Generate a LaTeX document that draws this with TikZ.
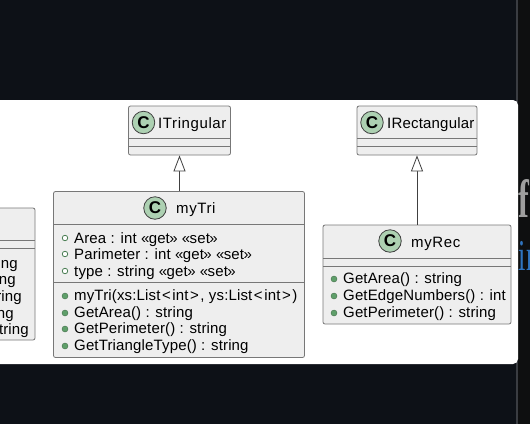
\documentclass[tikz,border=0pt]{standalone}
\usepackage{fontspec}
\setmainfont{Liberation Sans}
\newfontfamily\sidefont{Liberation Serif}
\usetikzlibrary{arrows.meta}
\definecolor{pagedark}{HTML}{0D1117}
\definecolor{sidedark}{HTML}{0E0F10}
\definecolor{stripgray}{HTML}{3A3D42}
\definecolor{boxfill}{HTML}{EEEEEE}
\definecolor{boxline}{HTML}{777777}
\definecolor{spotfill}{HTML}{ADD1B2}
\definecolor{pubdot}{HTML}{5F9F6A}
\definecolor{sideblue}{HTML}{2F74C0}
\newcommand{\stereo}[1]{«\kern-0.6pt#1\kern-0.6pt»}
\newcommand{\ltk}{\kern1.6pt<\kern1.6pt}
\newcommand{\gtk}{\kern1.6pt>\kern1.6pt}
\tikzset{
  classbox/.style={draw=boxline,fill=boxfill,rounded corners=2pt,line width=0.8pt},
  rowline/.style={boxline,line width=0.8pt},
  spot/.style={circle,draw=black!75,fill=spotfill,line width=0.8pt,minimum size=22.5pt,inner sep=0pt,font=\fontsize{17}{17}\selectfont\bfseries},
  title/.style={inner sep=0pt,anchor=base west,font=\fontsize{15}{16}\selectfont\addfontfeature{LetterSpace=4}},
  member/.style={anchor=base west,inner sep=0pt,font=\fontsize{15}{16}\selectfont\addfontfeature{LetterSpace=1}},
  pubm/.style={circle,fill=pubdot,draw=pubdot!70!black,line width=0.4pt,minimum size=6pt,inner sep=0pt},
  pubf/.style={circle,fill=white,draw=pubdot!80!black,line width=0.8pt,minimum size=5.5pt,inner sep=0pt},
  sidetext/.style={anchor=base west,inner sep=0pt,xscale=0.6,transform shape},
  inherit/.style={draw=black!75,line width=0.8pt,-{Triangle[open,fill=white,length=16pt,width=12pt]}}
}
\begin{document}
\begin{tikzpicture}[x=1pt,y=-1pt]
  \useasboundingbox (0,0) rectangle (530,424);
  \fill [pagedark] (0,0) rectangle (530,424);
  \fill [sidedark] (518,0) rectangle (530,424);
  \fill [stripgray] (516,0) rectangle (518,424);
  \fill [white,rounded corners=5pt] (-10,100) rectangle (518,364);
  % side text behind the page
  \begin{scope}
    \clip (518,0) rectangle (530,424);
    \node [sidetext,text=black!38,font=\sidefont\bfseries\fontsize{54}{54}\selectfont] (sidef) at (518,217) {f};
    \node [sidetext,text=sideblue,font=\sidefont\fontsize{44}{44}\selectfont] (sidei) at (518,270) {i\kern1pt n};
  \end{scope}
  % cut off class on the left
  \draw [classbox] (-10,208) rectangle (35,340);
  \draw [rowline] (0,240) -- (35,240);
  \draw [rowline] (0,248) -- (35,248);
  \node [member,anchor=base east] (la) at (18,268) {ing};
  \node [member,anchor=base east] (lb) at (16,284) {ng};
  \node [member,anchor=base east] (lc) at (22,301) {ring};
  \node [member,anchor=base east] (ld) at (14,318) {ng};
  \node [member,anchor=base east] (le) at (29,334) {tring};
  % myTri
  \node [classbox,minimum width=102pt,minimum height=49pt,inner sep=0pt] (itri) at (179.5,130.5) {};
  \draw [rowline] (129,138) -- (230,138);
  \draw [rowline] (129,146) -- (230,146);
  \node [spot] (itrispot) at (143.5,122.5) {C};
  \node [title] (itrititle) at (158,128.5) {ITringular};
  \node [classbox,minimum width=251pt,minimum height=166pt,inner sep=0pt] (tri) at (179,274.5) {};
  \draw [rowline] (54,224) -- (304,224);
  \draw [rowline] (54,282) -- (304,282);
  \node [spot] (trispot) at (155,208) {C};
  \node [title] (trititle) at (176,213.5) {myTri};
  \foreach \y/\txt in {242/{Area : int \stereo{get} \stereo{set}},258/{Parimeter : int \stereo{get} \stereo{set}},275/{type : string \stereo{get} \stereo{set}}} {
    \node [pubf] at (65,\y-4) {};
    \node [member] at (74,\y+1) {\txt};
  }
  \foreach \y/\txt in {300/{myTri(xs:List\ltk int\gtk, ys:List\ltk int\gtk)},317/{GetArea() : string},333/{GetPerimeter() : string},350/{GetTriangleType() : string}} {
    \node [pubm] at (65,\y-4) {};
    \node [member] at (74,\y) {\txt};
  }
  % myRec
  \node [classbox,minimum width=120pt,minimum height=49pt,inner sep=0pt] (irec) at (417,130.5) {};
  \draw [rowline] (357,138) -- (477,138);
  \draw [rowline] (357,146) -- (477,146);
  \node [spot] (irecspot) at (372,122.5) {C};
  \node [title,font=\fontsize{15}{16}\selectfont\addfontfeature{LetterSpace=1.3}] (irectitle) at (387,128.5) {IRectangular};
  \node [classbox,minimum width=188pt,minimum height=99pt,inner sep=0pt] (rec) at (417,274.5) {};
  \draw [rowline] (323,258) -- (511,258);
  \draw [rowline] (323,266) -- (511,266);
  \node [spot] (recspot) at (390,241) {C};
  \node [title] (rectitle) at (411,247.5) {myRec};
  \foreach \y/\txt in {283/{GetArea() : string},300/{GetEdgeNumbers() : int},317/{GetPerimeter() : string}} {
    \node [pubm] at (334,\y-4) {};
    \node [member] at (343,\y) {\txt};
  }
  % inheritance
  \draw [inherit] (itri.south |- tri.north) -- (itri.south);
  \draw [inherit] (irec.south |- rec.north) -- (irec.south);
\end{tikzpicture}
\end{document}
